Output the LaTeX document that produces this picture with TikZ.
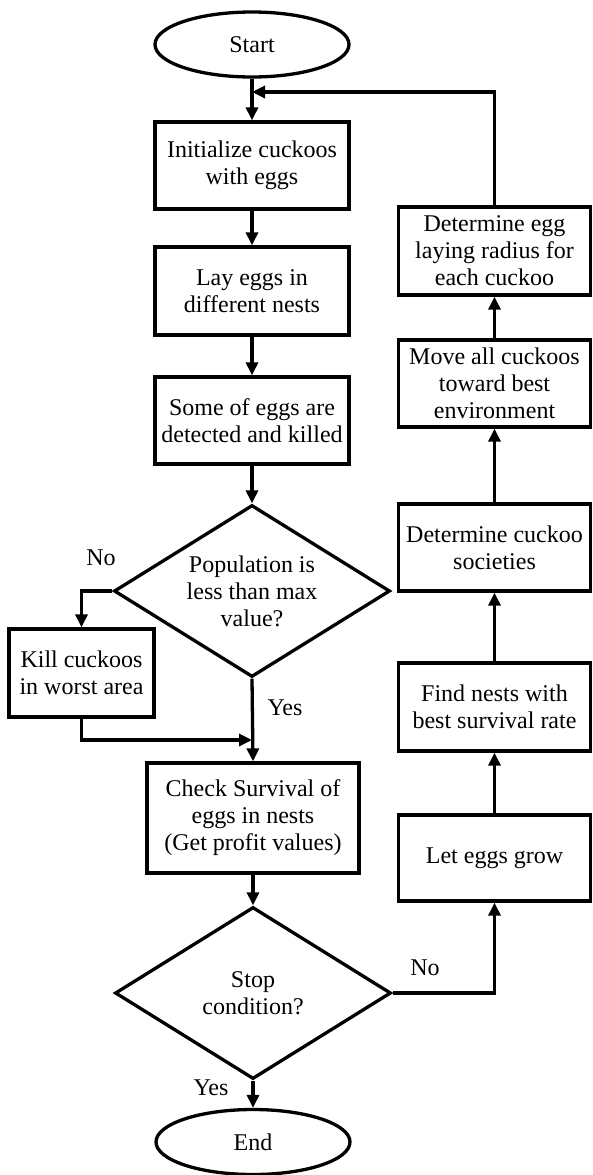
\documentclass[tikz,border=0pt]{standalone}
\usepackage{fontspec}
\setmainfont{Liberation Serif}
\usetikzlibrary{shapes.geometric,arrows.meta}
\begin{document}
\begin{tikzpicture}[x=1pt,y=-1pt,
  every node/.style={font=\fontsize{24}{27}\selectfont},
  box/.style={draw, line width=3.3pt, rectangle, align=center, inner sep=0pt},
  mainbox/.style={box, minimum width=194pt, minimum height=87pt},
  rightbox/.style={box, minimum width=192pt, minimum height=87pt},
  term/.style={draw, line width=3.3pt, ellipse, inner sep=0pt, minimum width=194pt, minimum height=65pt},
  decision/.style={draw, line width=3.3pt, diamond, aspect=1.6, inner sep=0pt, minimum width=276pt, minimum height=172pt, align=center},
  flow/.style={line width=3.3pt, -{Triangle[length=13pt,width=12pt]}},
  lbl/.style={inner sep=0pt}]
\useasboundingbox (0,0) rectangle (592,1175);

% main column
\node[term] (start) at (252,44.5) {Start};
\node[mainbox] (init) at (252,165.5) {Initialize cuckoos\\with eggs};
\node[mainbox, minimum height=88pt] (lay) at (252,291) {Lay eggs in\\different nests};
\node[mainbox] (some) at (252,420.5) {Some of eggs are\\detected and killed};
\node[decision] (pop) at (252,591) {Population is\\less than max\\value?};
\node[box, minimum width=145pt, minimum height=88pt] (kill) at (81.5,673) {Kill cuckoos\\in worst area};
\node[box, minimum width=212pt, minimum height=110pt] (check) at (253,818) {Check Survival of\\eggs in nests\\(Get profit values)};
\node[decision] (stop) at (253,993) {Stop\\condition?};
\node[term] (end) at (253,1142) {End};

% right column
\node[rightbox, minimum height=88pt] (det) at (494.5,251) {Determine egg\\laying radius for\\each cuckoo};
\node[rightbox] (move) at (494.5,383.5) {Move all cuckoos\\toward best\\environment};
\node[rightbox] (soc) at (494.5,547.5) {Determine cuckoo\\societies};
\node[rightbox, minimum height=88pt] (find) at (494.5,707) {Find nests with\\best survival rate};
\node[rightbox, minimum height=86pt] (let) at (494.5,858) {Let eggs grow};

% labels
\node[lbl] (no1) at (101,558) {No};
\node[lbl] (yes1) at (285,708) {Yes};
\node[lbl] (no2) at (425,968) {No};
\node[lbl] (yes2) at (211,1088) {Yes};

% helper coordinates
\coordinate (join) at (252,92);
\coordinate (merge) at (252,740);

% connectors
\draw[flow] (start.south) -- (init.north);
\draw[flow] (det.north) |- (join);
\draw[flow] (init.south) -- (lay.north);
\draw[flow] (lay.south) -- (some.north);
\draw[flow] (some.south) -- (pop.north);
\draw[flow] (pop.west) -| (kill.north);
\draw[flow] (pop.south) -- (check.north);
\draw[flow] (kill.south) |- (merge);
\draw[flow] (check.south) -- (stop.north);
\draw[flow] (stop.south) -- (end.north);
\draw[flow] (stop.east) -| (let.south);
\draw[flow] (let.north) -- (find.south);
\draw[flow] (find.north) -- (soc.south);
\draw[flow] (soc.north) -- (move.south);
\draw[flow] (move.north) -- (det.south);
\end{tikzpicture}
\end{document}
